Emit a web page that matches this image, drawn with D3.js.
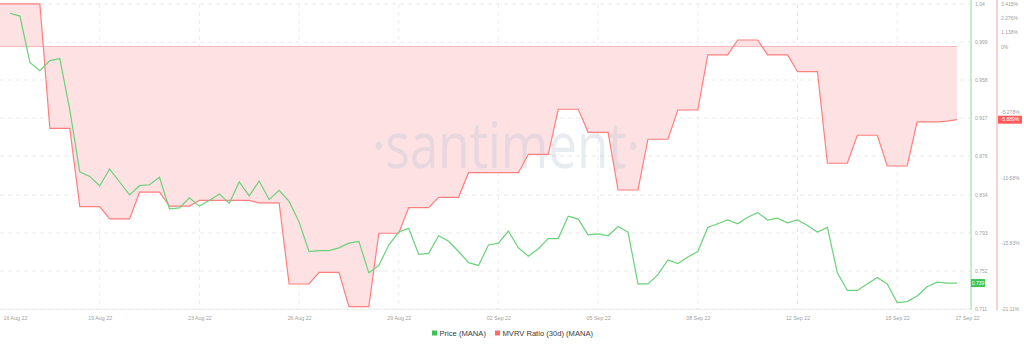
<!DOCTYPE html>
<html>
<head>
<meta charset="utf-8">
<script src="https://cdn.jsdelivr.net/npm/d3@7"></script>
<style>
  html, body { margin: 0; padding: 0; background: #fff; }
  svg { display: block; font-family: "Liberation Sans", Arial, sans-serif; }
</style>
</head>
<body>
<div id="chart"></div>
<script>
// 8-hourly samples, index 0 = 15 Aug 22 16:00
const price = [
  null, 1.030, 1.027, 0.977, 0.968, 0.979, 0.981, 0.926, 0.859, 0.854,
  0.844, 0.862, 0.848, 0.834, 0.844, 0.845, 0.853, 0.819, 0.820, 0.831,
  0.822, 0.828, 0.835, 0.825, 0.848, 0.833, 0.849, 0.829, 0.839, 0.827,
  0.805, 0.773, 0.774, 0.774, 0.777, 0.782, 0.784, 0.750, 0.758, 0.780,
  0.794, 0.798, 0.770, 0.771, 0.790, 0.784, 0.773, 0.761, 0.758, 0.780,
  0.782, 0.795, 0.777, 0.768, 0.776, 0.787, 0.787, 0.811, 0.808, 0.791,
  0.792, 0.790, 0.800, 0.794, 0.738, 0.738, 0.748, 0.764, 0.760, 0.767,
  0.773, 0.799, 0.803, 0.807, 0.803, 0.810, 0.815, 0.807, 0.809, 0.804,
  0.807, 0.801, 0.794, 0.799, 0.750, 0.731, 0.731, 0.738, 0.745, 0.738,
  0.718, 0.719, 0.725, 0.735, 0.740, 0.739, 0.739
];

// MVRV ratio (30d), percent
const mvrv = [
  3.42, 3.42, 3.42, 3.42, 3.42, -6.58, -6.58, -6.58, -12.88, -12.88,
  -12.88, -13.87, -13.87, -13.87, -11.72, -11.72, -11.72, -12.83, -12.83, -12.83,
  -12.37, -12.37, -12.37, -12.37, -12.37, -12.37, -12.58, -12.58, -12.58, -19.10,
  -19.10, -19.10, -18.16, -18.16, -18.16, -20.92, -20.92, -20.92, -15.02, -15.02,
  -15.02, -12.96, -12.96, -12.96, -12.13, -12.13, -12.13, -10.15, -10.15, -10.15,
  -10.15, -10.15, -10.15, -8.67, -8.67, -8.67, -5.05, -5.05, -5.05, -6.90,
  -6.90, -6.90, -11.54, -11.54, -11.54, -7.46, -7.46, -7.46, -5.11, -5.11,
  -5.11, -0.68, -0.68, -0.68, 0.52, 0.52, 0.52, -0.68, -0.68, -0.68,
  -2.03, -2.03, -2.03, -9.39, -9.39, -9.39, -7.14, -7.14, -7.14, -9.61,
  -9.61, -9.61, -6.07, -6.07, -6.07, -6.00, -5.889
];

const dateTicks = [1.5, 10, 20, 30, 40, 50, 60, 70, 80, 90, 97];
const dateLabels = ['16 Aug 22', '19 Aug 22', '23 Aug 22', '26 Aug 22', '29 Aug 22', '02 Sep 22',
                    '05 Sep 22', '08 Sep 22', '12 Sep 22', '15 Sep 22', '17 Sep 22'];
const gridTicks = [10, 20, 30, 40, 50, 60, 70, 80, 90];
const priceTicks = [1.04, 0.999, 0.958, 0.917, 0.876, 0.834, 0.793, 0.752, 0.711];
const mvrvTicks = [3.415, 2.276, 1.138, 0, -5.278, -10.58, -15.83, -21.11];
const mvrvTickLabels = ['3.415%', '2.276%', '1.138%', '0%', '-5.278%', '-10.58%', '-15.83%', '-21.11%'];

const W = 1024, H = 347;
const plot = { left: 0, right: 970, top: 4, bottom: 309 };
const green = '#6bd17b', red = '#ff7f7f';

const svg = d3.select('#chart').append('svg')
  .attr('width', W)
  .attr('height', H);

const x = d3.scaleLinear().domain([0, 96]).range([0, 957]);
const yP = d3.scaleLinear().domain([0.711, 1.04]).range([plot.bottom, plot.top]);
const yM = d3.scaleLinear().domain([-21.11, 3.415]).range([plot.bottom, plot.top]);

svg.append('clipPath').attr('id', 'clip')
  .append('rect')
  .attr('x', plot.left).attr('y', 0)
  .attr('width', plot.right - plot.left).attr('height', plot.bottom);

// grid
const grid = svg.append('g');
grid.selectAll('.hg').data(priceTicks).join('line')
  .attr('x1', plot.left).attr('x2', plot.right)
  .attr('y1', d => yP(d)).attr('y2', d => yP(d))
  .attr('stroke', '#e9e9e9').attr('stroke-dasharray', '4,4');
grid.selectAll('.vg').data(gridTicks).join('line')
  .attr('x1', d => x(d)).attr('x2', d => x(d))
  .attr('y1', plot.top).attr('y2', plot.bottom)
  .attr('stroke', '#ececec').attr('stroke-dasharray', '4,4');

// MVRV area (between line and 0)
const area = d3.area()
  .x((d, i) => x(i))
  .y0(yM(0))
  .y1(d => yM(d));
svg.append('path')
  .datum(mvrv)
  .attr('clip-path', 'url(#clip)')
  .attr('fill', '#fde1e3')
  .attr('d', area);

svg.append('line')
  .attr('x1', x(0)).attr('x2', x(96))
  .attr('y1', yM(0)).attr('y2', yM(0))
  .attr('stroke', '#f9b9bc').attr('stroke-width', 1);

// watermark
svg.append('text')
  .attr('x', 372)
  .attr('y', 168)
  .attr('textLength', 268)
  .attr('lengthAdjust', 'spacingAndGlyphs')
  .attr('font-family', '"Open Sans", sans-serif')
  .attr('font-weight', 400)
  .attr('font-size', 64)
  .attr('fill', '#c3cad8')
  .attr('fill-opacity', 0.38)
  .text('·santiment·');

// x baseline
svg.append('line')
  .attr('x1', plot.left).attr('x2', plot.right)
  .attr('y1', plot.bottom + 0.5).attr('y2', plot.bottom + 0.5)
  .attr('stroke', '#eeeeee');

// lines
const lineM = d3.line()
  .x((d, i) => x(i))
  .y(d => yM(d));
svg.append('path')
  .datum(mvrv)
  .attr('clip-path', 'url(#clip)')
  .attr('fill', 'none')
  .attr('stroke', red)
  .attr('stroke-width', 1.2)
  .attr('d', lineM);

const lineP = d3.line()
  .defined(d => d !== null)
  .x((d, i) => x(i))
  .y(d => yP(d));
svg.append('path')
  .datum(price)
  .attr('fill', 'none')
  .attr('stroke', green)
  .attr('stroke-width', 1.2)
  .attr('d', lineP);

// x axis labels
const xAxis = svg.append('g')
  .attr('transform', `translate(0,${plot.bottom})`)
  .call(d3.axisBottom(x).tickValues(dateTicks).tickSize(0).tickPadding(7)
    .tickFormat((d, i) => dateLabels[i]));
xAxis.select('.domain').remove();
xAxis.selectAll('text').attr('fill', '#a0a0a0').attr('font-size', 5.3)
  .attr('font-family', '"Liberation Sans", Arial, sans-serif');

// price axis (right, green)
svg.append('line')
  .attr('x1', 971).attr('x2', 971).attr('y1', 0).attr('y2', plot.bottom + 1)
  .attr('stroke', '#8edc98');
const pAxis = svg.append('g')
  .attr('transform', 'translate(971,0)')
  .call(d3.axisRight(yP).tickValues(priceTicks).tickSize(0).tickPadding(4)
    .tickFormat(d3.format('.3~f')));
pAxis.select('.domain').remove();
pAxis.selectAll('text').attr('fill', '#a0a0a0').attr('font-size', 5)
  .attr('font-family', '"Liberation Sans", Arial, sans-serif');

// mvrv axis (right, red)
svg.append('line')
  .attr('x1', 997).attr('x2', 997).attr('y1', 0).attr('y2', plot.bottom + 1)
  .attr('stroke', '#f5a3a3');
const mAxis = svg.append('g')
  .attr('transform', 'translate(997,0)')
  .call(d3.axisRight(yM).tickValues(mvrvTicks).tickSize(0).tickPadding(4)
    .tickFormat((d, i) => mvrvTickLabels[i]));
mAxis.select('.domain').remove();
mAxis.selectAll('text').attr('fill', '#a0a0a0').attr('font-size', 5)
  .attr('font-family', '"Liberation Sans", Arial, sans-serif');

// last value badges
const lastP = price[price.length - 1];
const lastM = mvrv[mvrv.length - 1];
const pb = svg.append('g').attr('transform', `translate(971,${yP(lastP)})`);
pb.append('rect').attr('x', 0).attr('y', -4).attr('width', 14).attr('height', 8).attr('fill', '#3fc558');
pb.append('text').attr('x', 7).attr('y', 0).attr('dy', '0.35em')
  .attr('text-anchor', 'middle').attr('font-size', 5).attr('fill', '#fff')
  .text(d3.format('.3f')(lastP));
const mb = svg.append('g').attr('transform', `translate(998,${yM(lastM)})`);
mb.append('rect').attr('x', 0).attr('y', -4).attr('width', 24).attr('height', 8).attr('fill', '#ff5b5b');
mb.append('text').attr('x', 12).attr('y', 0).attr('dy', '0.35em')
  .attr('text-anchor', 'middle').attr('font-size', 5).attr('fill', '#fff')
  .text(lastM + '%');

// legend
const legendItems = [
  { name: 'Price (MANA)', color: '#3cc456', x: 432 },
  { name: 'MVRV Ratio (30d) (MANA)', color: '#ff6a6a', x: 495 }
];
const legend = svg.append('g').attr('transform', 'translate(0,333)');
legendItems.forEach(it => {
  legend.append('rect')
    .attr('x', it.x).attr('y', -2.5)
    .attr('width', 5).attr('height', 5)
    .attr('fill', it.color);
  legend.append('text')
    .attr('x', it.x + 7.5).attr('y', 0).attr('dy', '0.35em')
    .attr('font-size', 7.6)
    .attr('fill', '#3a3a3a')
    .text(it.name);
});
</script>
</body>
</html>
